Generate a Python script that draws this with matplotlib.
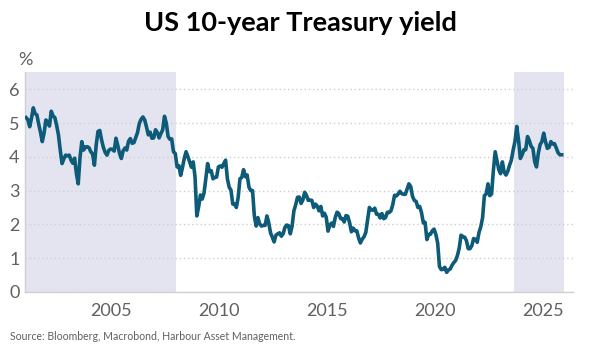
import matplotlib
matplotlib.use("Agg")
import matplotlib.pyplot as plt
import numpy as np

# monthly US 10y yield (%), Jan 2001 .. Nov 2025
y2001 = [5.16, 5.10, 4.89, 5.14, 5.45, 5.28, 5.24, 4.97, 4.73, 4.45, 4.70, 5.09]
y2002 = [5.04, 4.91, 5.35, 5.21, 5.16, 4.93, 4.65, 4.20, 3.80, 3.94, 4.05, 4.03]
y2003 = [4.05, 3.90, 3.81, 3.96, 3.50, 3.20, 3.98, 4.45, 4.20, 4.29, 4.30, 4.27]
y2004 = [4.15, 4.08, 3.75, 4.35, 4.75, 4.78, 4.50, 4.28, 4.13, 4.05, 4.19, 4.23]
y2005 = [4.22, 4.17, 4.55, 4.34, 4.10, 3.95, 4.18, 4.26, 4.20, 4.46, 4.54, 4.40]
y2006 = [4.42, 4.57, 4.72, 4.99, 5.11, 5.18, 5.09, 4.88, 4.65, 4.73, 4.55, 4.56]
y2007 = [4.80, 4.72, 4.56, 4.69, 4.80, 5.20, 5.00, 4.60, 4.52, 4.53, 4.15, 4.10]
y2008 = [3.70, 3.74, 3.45, 3.68, 3.95, 4.15, 4.01, 3.85, 3.69, 3.85, 3.40, 2.25]
y2009 = [2.52, 2.87, 2.75, 2.93, 3.35, 3.80, 3.56, 3.59, 3.35, 3.39, 3.40, 3.70]
y2010 = [3.73, 3.69, 3.80, 3.90, 3.35, 3.10, 3.01, 2.60, 2.60, 2.50, 2.80, 3.35]
y2011 = [3.39, 3.62, 3.41, 3.46, 3.10, 3.00, 3.00, 2.25, 1.95, 2.20, 2.01, 1.95]
y2012 = [1.97, 1.97, 2.25, 2.05, 1.75, 1.62, 1.48, 1.68, 1.72, 1.75, 1.65, 1.72]
y2013 = [1.91, 1.98, 1.96, 1.72, 1.95, 2.40, 2.58, 2.80, 2.81, 2.62, 2.72, 2.95]
y2014 = [2.86, 2.71, 2.72, 2.71, 2.50, 2.60, 2.54, 2.40, 2.53, 2.25, 2.33, 2.21]
y2015 = [1.80, 1.98, 2.04, 1.94, 2.20, 2.36, 2.32, 2.17, 2.17, 2.07, 2.26, 2.24]
y2016 = [2.05, 1.78, 1.89, 1.81, 1.81, 1.60, 1.45, 1.56, 1.63, 1.76, 2.14, 2.50]
y2017 = [2.43, 2.42, 2.48, 2.30, 2.30, 2.19, 2.32, 2.17, 2.20, 2.36, 2.35, 2.40]
y2018 = [2.58, 2.86, 2.84, 2.90, 2.98, 2.91, 2.89, 2.89, 3.05, 3.20, 3.12, 2.83]
y2019 = [2.71, 2.68, 2.50, 2.53, 2.35, 2.05, 2.06, 1.55, 1.70, 1.71, 1.81, 1.86]
y2020 = [1.70, 1.45, 0.75, 0.66, 0.67, 0.73, 0.58, 0.65, 0.68, 0.79, 0.87, 0.93]
y2021 = [1.08, 1.30, 1.68, 1.64, 1.62, 1.52, 1.28, 1.28, 1.37, 1.58, 1.56, 1.47]
y2022 = [1.76, 1.93, 2.20, 2.85, 2.90, 3.20, 2.85, 2.90, 3.60, 4.15, 3.89, 3.62]
y2023 = [3.50, 3.85, 3.55, 3.46, 3.57, 3.75, 3.90, 4.20, 4.45, 4.90, 4.50, 3.95]
y2024 = [4.06, 4.21, 4.21, 4.60, 4.48, 4.31, 4.25, 3.85, 3.70, 4.10, 4.36, 4.45]
y2025 = [4.70, 4.45, 4.25, 4.28, 4.45, 4.38, 4.39, 4.26, 4.12, 4.06, 4.06]

yields = np.array(y2001 + y2002 + y2003 + y2004 + y2005 + y2006 + y2007 + y2008
                  + y2009 + y2010 + y2011 + y2012 + y2013 + y2014 + y2015 + y2016
                  + y2017 + y2018 + y2019 + y2020 + y2021 + y2022 + y2023 + y2024
                  + y2025)
years = 2001 + (np.arange(len(yields)) + 0.5) / 12

shaded = [(2001.0, 2008.0), (2023.65, 2025.97)]
xticks = [2005, 2010, 2015, 2020, 2025]
yticks = [0, 1, 2, 3, 4, 5, 6]

plt.rcParams["font.family"] = ["Lato", "DejaVu Sans"]
grey = "#606060"

fig = plt.figure(figsize=(6.0, 3.53), dpi=100)
ax = fig.add_axes([0.042, 0.173, 0.913, 0.622])

for a, b in shaded:
    ax.axvspan(a, b, color="#e4e4f0", lw=0, zorder=0)
ax.plot(years, yields, color="#0d5b78", lw=2.6, zorder=3)

ax.set_xlim(2001.0, 2026.4)
ax.set_ylim(0, 6.5)
ax.set_xticks(xticks)
ax.set_yticks(yticks)
ax.set_xticklabels([str(t) for t in xticks])
ax.tick_params(length=0, labelsize=13, labelcolor=grey, pad=4)
ax.tick_params(axis="x", pad=8)
ax.yaxis.grid(True, linestyle=(0, (1, 2)), color="#cfcfcf", lw=1)
ax.set_axisbelow(True)
for s in ["top", "right"]:
    ax.spines[s].set_visible(False)
for s in ["left", "bottom"]:
    ax.spines[s].set_color("#d0d0d0")
    ax.spines[s].set_linewidth(1)

fig.text(0.5, 0.935, "US 10-year Treasury yield", ha="center", va="center",
         fontsize=19.5, fontweight="bold", color="black")
fig.text(0.042, 0.83, "%", ha="center", va="center", fontsize=13, color=grey)
fig.text(0.017, 0.048, "Source: Bloomberg, Macrobond, Harbour Asset Management.",
         ha="left", va="center", fontsize=7.6, color=grey)

fig.savefig("out.png", dpi=100)
